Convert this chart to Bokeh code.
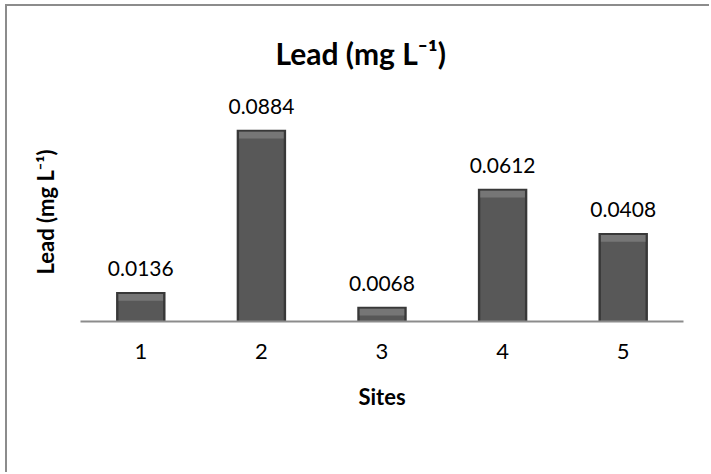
from bokeh.plotting import figure
from bokeh.models import FactorRange, Range1d, ColumnDataSource, Title
from bokeh.core.properties import value
from bokeh.embed import file_html
from bokeh.resources import INLINE

sites = ["1", "2", "3", "4", "5"]
lead = [0.0136, 0.0884, 0.0068, 0.0612, 0.0408]
labels = ["0.0136", "0.0884", "0.0068", "0.0612", "0.0408"]

FONT = "Lato"

src = ColumnDataSource(dict(
    x=sites,
    top=lead,
    inner_top=[v - 0.0009 for v in lead],
    bevel_bottom=[v - 0.0040 for v in lead],
    label=labels,
))

# axis maximum 0.1 sits at the old frame top; extra headroom keeps labels unclipped
p = figure(
    width=704, height=468,
    x_range=FactorRange(*sites, range_padding=0),
    y_range=Range1d(0, 0.1157),
    output_backend="svg", toolbar_location=None,
    min_border_left=70, min_border_right=28,
    min_border_top=64, min_border_bottom=153,
    title="Lead (mg L\u207b\u00b9)",
)
p.styles = {"margin-left": "5px", "margin-top": "4px",
            "border-left": "2px solid #8c8c8c", "border-top": "2px solid #8c8c8c"}

p.title.align = "left"
p.title.offset = 195
p.title.text_font = FONT
p.title.text_font_size = "30px"
p.title.text_font_style = "bold"
p.title.text_color = "#000000"
p.title.standoff = 0

p.outline_line_color = None
p.xgrid.grid_line_color = None
p.ygrid.grid_line_color = None

# bars
p.vbar(x="x", top="top", bottom=0, width=0.41, source=src,
       fill_color="#383838", line_color=None)
p.vbar(x="x", top="inner_top", bottom=0, width=0.37, source=src,
       fill_color="#585858", line_color=None)
p.vbar(x="x", top="inner_top", bottom="bevel_bottom", width=0.37, source=src,
       fill_color="#767676", line_color=None)

p.text(x="x", y="top", text="label", source=src, y_offset=-16,
       text_align="center", text_baseline="bottom",
       text_font=value(FONT), text_font_size="21px", text_color="#000000")

# x axis
xa = p.xaxis[0]
xa.axis_line_color = "#8c8c8c"
xa.axis_line_width = 2
xa.major_tick_line_color = None
xa.minor_tick_line_color = None
xa.major_tick_out = 0
xa.major_label_standoff = 22
xa.major_label_text_font = FONT
xa.major_label_text_font_size = "22px"
xa.major_label_text_color = "#000000"
xa.axis_label = "Sites"
xa.axis_label_text_font = FONT
xa.axis_label_text_font_size = "22px"
xa.axis_label_text_font_style = "bold"
xa.axis_label_text_color = "#000000"
xa.axis_label_standoff = 21

# y axis: hidden; its title is placed as a left-side Title
p.yaxis.visible = False
ytitle = Title(text="Lead (mg L\u207b\u00b9)", align="left", offset=47, standoff=44,
               text_font=FONT, text_font_size="22px", text_font_style="bold",
               text_color="#000000")
p.add_layout(ytitle, "left")

open("out.html", "w").write(file_html(p, INLINE))
